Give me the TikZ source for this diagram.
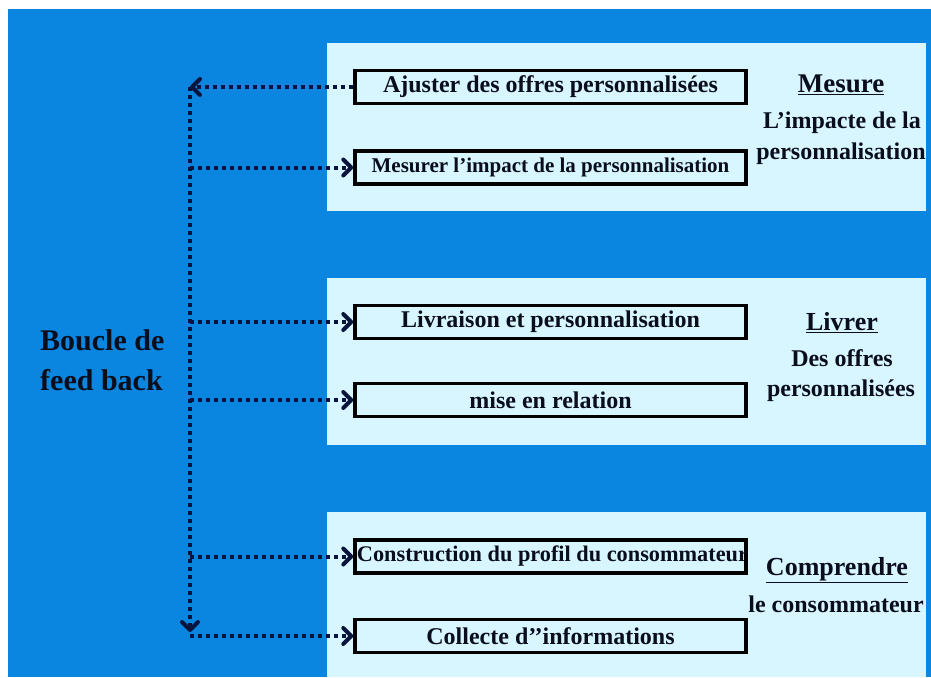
\documentclass[tikz,border=0pt]{standalone}
\usepackage{fontspec}
\setmainfont{Liberation Serif}
\usetikzlibrary{arrows.meta}
\definecolor{bgblue}{RGB}{10,134,224}
\definecolor{panelcyan}{RGB}{216,246,255}
\definecolor{inkdark}{RGB}{10,14,28}
\definecolor{dotnavy}{RGB}{8,20,60}
\begin{document}
\begin{tikzpicture}[x=1pt,y=-1pt,
  panel/.style={fill=panelcyan,draw=none},
  stepbox/.style={draw=black,line width=3.5pt,fill=panelcyan,minimum width=391pt,minimum height=33pt,inner sep=0pt,text=inkdark,font=\bfseries\fontsize{24}{28}\selectfont},
  label/.style={text=inkdark,inner sep=0pt,font=\bfseries\fontsize{24}{28}\selectfont},
  heading/.style={text=inkdark,inner sep=0pt,font=\bfseries\fontsize{26}{30}\selectfont},
  loop/.style={draw=dotnavy,line width=4pt,dash pattern=on 4pt off 4pt},
  tip/.style={-{Straight Barb[length=8pt,width=16pt,line width=4pt,line cap=round,line join=round]}}
]
\useasboundingbox (0,0) rectangle (931,677);
\fill[white] (0,0) rectangle (931,677);
\fill[bgblue] (8,9) rectangle (931,677);

% three stage panels
\fill[panel] (327,43) rectangle (926,211);
\fill[panel] (327,278) rectangle (926,445);
\fill[panel] (327,512) rectangle (926,677);

% step boxes
\node[stepbox] (ajuster) at (550.5,87) {Ajuster des offres personnalisées};
\node[stepbox,font=\bfseries\fontsize{21}{25}\selectfont] (mesurer) at (550.5,167.5) {Mesurer l’impact de la personnalisation};
\node[stepbox] (livraison) at (550.5,322) {Livraison et personnalisation};
\node[stepbox] (relation) at (550.5,400) {mise en relation};
\node[stepbox,font=\bfseries\fontsize{22.3}{26}\selectfont] (profil) at (550.5,556.5) {\makebox[385pt][c]{\hspace*{4pt}Construction du profil du consommateur}};
\node[stepbox] (collecte) at (550.5,636) {Collecte d’’informations};

% stage titles
\node[heading,font=\bfseries\fontsize{27}{31}\selectfont] (t1) at (841,85) {\underline{Mesure}};
\node[label] (t1a) at (842,123) {L’impacte de la};
\node[label] (t1b) at (841,154) {personnalisation};
\node[heading] (t2) at (842,323) {\underline{Livrer}};
\node[label] (t2a) at (842,358) {Des offres};
\node[label] (t2b) at (841,391) {personnalisées};
\node[heading] (t3) at (837,570) {\underline{Comprendre}};
\node[label] (t3a) at (836,604) {le consommateur};

% loop caption
\node[heading,anchor=west,align=left,font=\bfseries\fontsize{30}{40}\selectfont] (boucle) at (40,360) {Boucle de\\feed back};

% feedback loop
\coordinate (top) at (190,87);
\coordinate (bottom) at (190,632);
\draw[loop,tip] (ajuster.west) -- (top);
\draw[loop,tip] (top) -- (bottom);
\foreach \n in {mesurer,livraison,relation,profil,collecte}
  \draw[loop,tip] (190,0 |- \n.west) -- (\n.west);
\end{tikzpicture}
\end{document}
